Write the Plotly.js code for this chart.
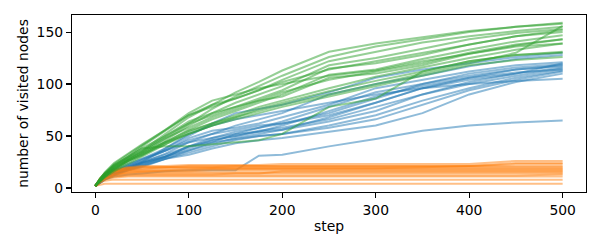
<!DOCTYPE html>
<html>
<head>
<meta charset="utf-8">
<script src="https://cdn.plot.ly/plotly-3.0.1.min.js"></script>
<style>html,body{margin:0;padding:0;background:#fff;}#chart{width:600px;height:250px;}</style>
</head>
<body>
<div id="chart"></div>
<script>
// sampled steps
const steps = [0,5,10,20,35,50,75,100,125,150,175,200,250,300,350,400,450,500];

// blue runs
const blueRuns = [
  [2,6,10,15,20,25,38,50,62,72,76,80,92,106,114,120,126,130],
  [2,6,9,14,19,24,33,44,52,60,66,72,90,100,108,117,124,128],
  [2,7,11,16,21,26,36,48,55,58,62,68,80,96,104,112,118,121],
  [2,5,8,13,18,22,30,40,48,54,58,64,78,92,100,110,116,119],
  [2,6,10,15,21,27,36,46,52,56,60,62,72,86,100,108,114,118],
  [2,5,9,13,17,20,28,36,44,52,58,62,70,82,96,106,114,117],
  [2,6,10,14,19,24,30,38,46,50,55,58,66,78,90,102,110,116],
  [2,7,11,16,22,28,36,44,48,52,54,56,64,74,90,100,108,115],
  [2,5,8,12,17,21,28,34,40,46,50,52,60,70,84,96,106,113],
  [2,6,10,14,20,25,32,40,44,47,50,52,58,66,80,94,104,112],
  [2,5,9,13,18,22,28,32,38,43,46,48,54,60,72,90,102,110],
  [2,6,9,14,19,24,30,36,42,48,52,56,68,82,96,100,103,105],
  [2,5,8,11,13,14,16,17,17,17,31,32,40,47,55,60,63,65],
  [2,7,12,17,23,28,38,52,60,66,70,74,82,90,96,104,110,120],
  [2,6,10,14,19,23,30,40,46,50,54,60,74,88,98,106,111,114]
];

// orange runs
const orangeRuns = [
  [2,3,4,4,4,4,4,4,4,4,4,4,4,4,4,4,4,4],
  [2,5,7,8,8,8,8,8,8,8,8,8,8,8,8,8,8,8],
  [2,6,8,10,11,11,11,11,11,11,11,11,11,11,11,11,11,11],
  [2,6,9,11,12,12,12,12,12,12,12,12,12,12,12,12,12,13],
  [2,7,10,13,14,14,14,14,14,14,14,14,14,14,14,14,14,14],
  [2,6,9,12,13,13,13,13,13,14,14,16,16,16,16,16,16,16],
  [2,7,10,13,15,15,15,15,15,15,15,15,15,15,15,15,15,15],
  [2,8,12,15,16,16,16,16,17,17,17,17,17,17,17,17,17,17],
  [2,7,11,14,15,16,17,17,18,18,18,18,18,18,18,18,18,18],
  [2,8,12,15,17,18,19,19,19,19,19,19,19,19,19,19,19,19],
  [2,8,13,16,17,17,17,18,19,19,19,19,19,19,20,21,21,21],
  [2,8,13,17,19,20,20,20,20,20,20,20,20,20,20,20,20,20],
  [2,9,13,17,19,20,20,21,21,21,21,21,21,21,21,21,23,23],
  [2,9,14,18,20,21,21,22,22,22,22,23,23,23,23,23,26,26],
  [2,8,12,16,18,19,20,20,20,21,21,21,21,21,21,21,24,24]
];

// green runs
const greenRuns = [
  [2,8,13,20,28,36,52,68,80,92,102,113,131,139,145,151,155,159],
  [2,8,12,19,27,34,48,62,76,88,98,108,126,136,143,150,155,158],
  [2,9,14,22,30,40,55,70,80,86,94,104,122,131,140,146,151,155],
  [2,7,11,18,26,33,46,60,72,82,90,98,118,125,134,143,149,153],
  [2,8,13,21,30,38,50,62,70,78,86,94,115,120,128,138,146,152],
  [2,7,11,17,25,31,44,56,66,74,82,90,109,114,124,133,141,147],
  [2,8,12,20,28,35,50,64,72,78,84,88,106,110,118,129,137,143],
  [2,9,14,23,32,41,56,72,84,90,96,100,108,113,122,129,136,139],
  [2,6,10,16,23,30,42,54,62,70,78,84,96,107,116,125,133,139],
  [2,7,11,18,26,32,44,55,62,68,76,82,93,103,112,122,128,130],
  [2,8,12,19,27,34,44,52,60,66,72,78,88,98,108,118,123,126],
  [2,9,14,22,30,38,40,40,42,44,46,52,78,86,112,122,128,131],
  [2,7,11,18,26,32,42,52,60,68,74,80,90,100,110,120,130,156],
  [2,8,13,21,29,36,48,58,68,76,84,92,104,112,120,130,138,143],
  [2,9,15,24,33,42,56,70,78,86,94,102,114,122,130,138,146,150]
];

const colors = {blue:'#1f77b4', orange:'#ff7f0e', green:'#2ca02c'};

function mk(runs, color){
  return runs.map(r => ({
    x: steps, y: r, type:'scatter', mode:'lines',
    line:{color:color, width:2}, opacity:0.5,
    hoverinfo:'skip', showlegend:false
  }));
}

const traces = [].concat(mk(blueRuns, colors.blue), mk(orangeRuns, colors.orange), mk(greenRuns, colors.green));

const font = {family:'DejaVu Sans, sans-serif', size:13.9, color:'#000'};
const layout = {
  width:600, height:250,
  margin:{l:72, r:14, t:15, b:58},
  paper_bgcolor:'#fff', plot_bgcolor:'#fff',
  font: font,
  showlegend:false,
  xaxis:{
    range:[-25,525], tickvals:[0,100,200,300,400,500],
    ticks:'outside', ticklen:5, tickwidth:1.1, tickcolor:'#000',
    showline:true, mirror:true, linecolor:'#000', linewidth:1.1,
    showgrid:false, zeroline:false, tickfont:font,
    title:{text:'step', font:font, standoff:4}
  },
  yaxis:{
    range:[-3.9,166.4], tickvals:[0,50,100,150],
    ticks:'outside', ticklen:5, tickwidth:1.1, tickcolor:'#000',
    showline:true, mirror:true, linecolor:'#000', linewidth:1.1,
    showgrid:false, zeroline:false, tickfont:font,
    title:{text:'number of visited nodes', font:font, standoff:4}
  }
};

Plotly.newPlot('chart', traces, layout, {staticPlot:true, displayModeBar:false});
</script>
</body>
</html>
